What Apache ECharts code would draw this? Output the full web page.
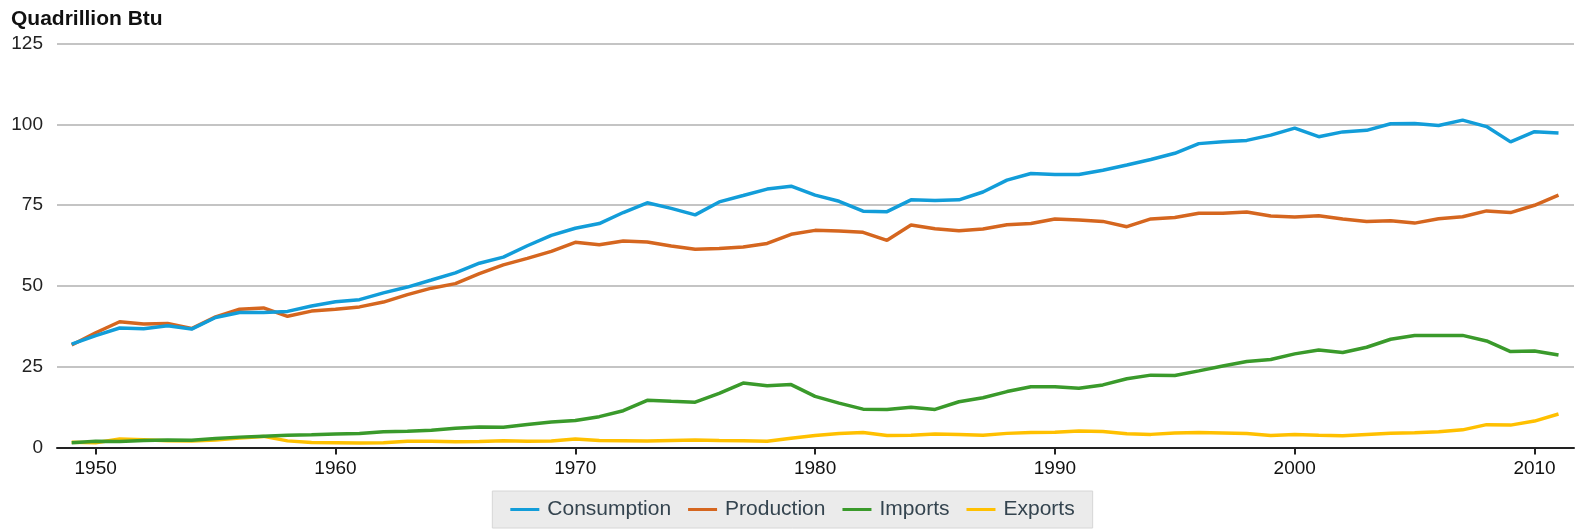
<!DOCTYPE html>
<html>
<head>
<meta charset="utf-8">
<script src="https://cdn.jsdelivr.net/npm/echarts@6/dist/echarts.min.js"></script>
<style>
html,body{margin:0;padding:0;background:#fff;}
#c{width:1585px;height:529px;}
</style>
</head>
<body>
<div id="c"></div>
<script>
const years = [];
for (let y = 1949; y <= 2011; y++) years.push(String(y));

const consumption = [31.98,34.62,36.97,36.75,37.66,36.64,40.21,41.75,41.79,42.11,43.79,45.09,45.74,47.83,49.64,51.82,54.02,57.02,58.91,62.42,65.62,67.84,69.29,72.70,75.71,73.99,71.97,75.98,77.96,79.96,80.86,78.07,76.17,73.10,72.97,76.63,76.39,76.64,79.05,82.71,84.79,84.49,84.44,85.78,87.42,89.09,91.03,94.02,94.60,95.02,96.65,98.81,96.17,97.65,98.13,100.16,100.28,99.62,101.30,99.29,94.56,97.70,97.30];
const production = [31.7,35.5,38.9,38.2,38.4,36.8,40.4,42.8,43.2,40.6,42.2,42.8,43.5,45.0,47.3,49.3,50.7,53.8,56.5,58.5,60.7,63.50,62.72,63.92,63.59,62.37,61.36,61.60,62.05,63.14,65.95,67.18,67.01,66.57,64.11,68.83,67.70,67.07,67.60,68.90,69.33,70.70,70.36,69.96,68.32,70.72,71.17,72.49,72.47,72.86,71.62,71.33,71.73,70.71,69.94,70.16,69.43,70.75,71.40,73.21,72.68,74.94,78.10];
const imports = [1.47,1.91,1.89,2.15,2.30,2.27,2.79,3.21,3.51,3.76,3.95,4.19,4.34,4.84,5.04,5.35,5.92,6.31,6.28,7.15,7.86,8.34,9.54,11.39,14.61,14.30,14.03,16.76,19.95,19.11,19.46,15.80,13.72,11.86,11.75,12.47,11.78,14.15,15.40,17.30,18.77,18.82,18.33,19.37,21.27,22.39,22.26,23.70,25.22,26.58,27.25,28.97,30.16,29.41,31.01,33.49,34.66,34.68,34.68,32.97,29.69,29.87,28.59];
const exports = [1.59,1.47,2.62,2.37,2.08,2.03,2.29,2.95,3.44,2.05,1.54,1.48,1.38,1.44,1.94,1.94,1.81,1.83,2.12,1.94,1.99,2.63,2.15,2.12,2.03,2.20,2.32,2.17,2.05,1.92,2.86,3.70,4.33,4.63,3.69,3.79,4.20,4.02,3.81,4.37,4.66,4.75,5.14,4.94,4.26,4.06,4.51,4.63,4.51,4.30,3.72,4.01,3.77,3.67,4.05,4.43,4.56,4.87,5.46,7.07,6.93,8.18,10.36];

const seriesNames = ['Consumption','Production','Imports','Exports'];
const seriesData = [consumption, production, imports, exports];
const colors = ['#129dd9','#d5661f','#3a9a2b','#ffc000'];

const FONT = 'Liberation Sans, Arial, sans-serif';
const chart = echarts.init(document.getElementById('c'), null, {renderer:'canvas'});
const showDecade = (i, v) => Number(v) % 10 === 0;

chart.setOption({
  animation: false,
  backgroundColor: '#ffffff',
  color: colors,
  title: {
    text: 'Quadrillion Btu', left: 6, top: 4,
    textStyle: {fontFamily: FONT, fontSize: 21, fontWeight: 'bold', color: '#111'}
  },
  legend: {
    bottom: 1, left: 'center',
    data: seriesNames,
    icon: 'rect', itemWidth: 29, itemHeight: 3, itemGap: 17,
    backgroundColor: '#ebebeb', borderColor: '#d6d6d6', borderWidth: 1,
    padding: [8, 18, 8, 18],
    textStyle: {fontFamily: FONT, fontSize: 21, color: '#34444f', padding: [0,0,0,3]}
  },
  grid: [
    {left: 57, right: 11, top: 43.5, bottom: 81.5},
    {left: 59.7, right: 14.5, top: 43.5, bottom: 81.5}
  ],
  xAxis: [
    {gridIndex: 0, type: 'value', min: 0, max: 1,
     axisLine: {show: true, onZero: false, lineStyle: {color: '#222', width: 2}},
     axisTick: {show: false}, axisLabel: {show: false}, splitLine: {show: false}},
    {gridIndex: 1, type: 'category', data: years, boundaryGap: true,
     axisLine: {show: false},
     axisTick: {show: true, alignWithLabel: true, interval: showDecade, length: 7, lineStyle: {color: '#222', width: 2}},
     axisLabel: {interval: showDecade, margin: 12, fontFamily: FONT, fontSize: 19, color: '#111'},
     splitLine: {show: false}}
  ],
  yAxis: [
    {gridIndex: 0, type: 'value', min: 0, max: 125, interval: 25,
     axisLine: {show: false}, axisTick: {show: false},
     axisLabel: {margin: 14, fontFamily: FONT, fontSize: 19, color: '#222'},
     splitLine: {show: true, lineStyle: {color: '#b0b0b0', width: 1.5}}},
    {gridIndex: 1, type: 'value', min: 0, max: 125, interval: 25, show: false,
     splitLine: {show: false}}
  ],
  series: seriesNames.map((n, i) => ({
    name: n, type: 'line', xAxisIndex: 1, yAxisIndex: 1,
    data: seriesData[i], showSymbol: false, symbol: 'none',
    lineStyle: {width: 3.5, color: colors[i]}, itemStyle: {color: colors[i]},
    z: 10 - i
  }))
});
</script>
</body>
</html>
